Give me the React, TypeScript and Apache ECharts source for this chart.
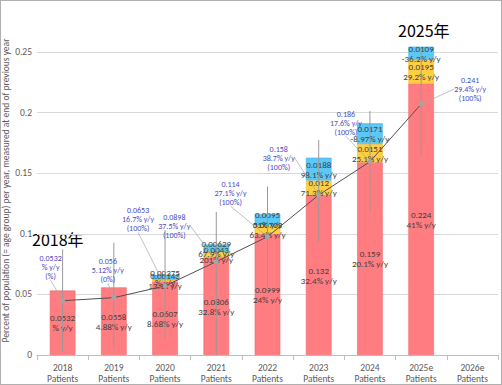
import React, { useEffect, useRef } from "react";
import * as echarts from "echarts";

const categories = ["2018\nPatients", "2019\nPatients", "2020\nPatients", "2021\nPatients", "2022\nPatients", "2023\nPatients", "2024\nPatients", "2025e\nPatients", "2026e\nPatients"];
const yTicks = [0, 0.05, 0.1, 0.15, 0.2, 0.25];

const redValues = [0.0532, 0.0558, 0.0607, 0.0806, 0.0999, 0.132, 0.159, 0.224, null];
const redYoy = ["%", "4.88%", "8.68%", "32.8%", "24%", "32.4%", "20.1%", "41%", ""];
const yellowValues = [null, null, 0.00143, 0.0043, 0.00703, 0.012, 0.0151, 0.0195, null];
const yellowYoy = ["", "", "13.1x", "201%", "63.4%", "71.3%", "25.1%", "29.2%", ""];
const blueValues = [null, null, 0.00375, 0.00629, 0.0095, 0.0188, 0.0171, 0.0109, null];
const blueYoy = ["", "", "%", "67.9%", "51%", "98.1%", "-8.97%", "-36.2%", ""];

const lineValues = [0.0448, 0.0473, 0.057, 0.077, 0.0976, 0.132, 0.1595, 0.207, null];
const errLow = [0.0027, 0.0055, 0.0137, 0.0, 0.0536, 0.0935, 0.1174, 0.165];
const errHigh = [0.0872, 0.0927, 0.103, 0.118, 0.139, 0.1774, 0.2013, 0.2533];

const totalValues = ["0.0532", "0.056", "0.0653", "0.0898", "0.114", "0.158", "0.186", "0.241"];
const totalYoy = ["%", "5.12%", "16.7%", "37.5%", "27.1%", "38.7%", "17.6%", "29.4%"];
const totalShare = ["%", "0%", "100%", "100%", "100%", "100%", "100%", "100%"];

const calloutOffsets = [
  [-12, -34], [-6, -28], [-27, -67], [-42, -36], [-37, -44], [-40, -37], [-24, -39], [49, -15],
];

const FONT = "Carlito, 'Liberation Sans Narrow', 'Liberation Sans', sans-serif";

export default function App() {
  const ref = useRef<HTMLDivElement>(null);
  useEffect(() => {
    if (!ref.current) return;
    const chart = echarts.init(ref.current, undefined, { renderer: "svg" });
    const barLabel = (yoy: string[]) => ({
      show: true,
      position: "inside",
      color: "#404040",
      fontSize: 9,
      lineHeight: 10,
      fontFamily: FONT,
      formatter: (p: any) => (p.value == null ? "" : `${p.value}\n${yoy[p.dataIndex]} y/y`),
    });
    chart.setOption({
      animation: false,
      backgroundColor: "#ffffff",
      textStyle: { fontFamily: FONT },
      grid: { left: 37, right: 4, top: 52, bottom: 30, containLabel: false, outerBoundsMode: "none" },
      xAxis: {
        type: "category",
        data: categories,
        axisLine: { lineStyle: { color: "#bfbfbf" } },
        axisTick: { show: true, length: 5, lineStyle: { color: "#bfbfbf" } },
        axisLabel: { color: "#595959", fontSize: 9.5, lineHeight: 11.5, margin: 7, fontFamily: FONT, interval: 0 },
      },
      yAxis: {
        type: "value",
        min: yTicks[0],
        max: yTicks[yTicks.length - 1],
        interval: 0.05,
        name: "Percent of population (= age group) per year, measured at end of previous year",
        nameLocation: "middle",
        nameGap: 26,
        nameMoveOverlap: false,
        nameTextStyle: { color: "#595959", fontSize: 9.5, fontFamily: FONT, padding: [0, 0, 0, 26] },
        axisLine: { show: false },
        axisTick: { show: false },
        axisLabel: { color: "#595959", fontSize: 9.5, margin: 5, fontFamily: FONT },
        splitLine: { lineStyle: { color: "#d9d9d9", width: 1 } },
      },
      series: [
        {
          type: "bar",
          stack: "total",
          barWidth: "50%",
          clip: false,
          data: redValues,
          itemStyle: { color: "#FF7C80", borderColor: "#F26A6E", borderWidth: 0.6 },
          label: barLabel(redYoy),
        },
        {
          type: "bar",
          stack: "total",
          barWidth: "50%",
          clip: false,
          data: yellowValues,
          itemStyle: { color: "#FFCF3F", borderColor: "#F0BE30", borderWidth: 0.6 },
          label: barLabel(yellowYoy),
        },
        {
          type: "bar",
          stack: "total",
          barWidth: "50%",
          clip: false,
          data: blueValues,
          itemStyle: { color: "#5BC8F5", borderColor: "#48B6E6", borderWidth: 0.6 },
          label: barLabel(blueYoy),
        },
        {
          type: "custom",
          clip: false,
          z: 5,
          data: errLow.map((lo, i) => [i, lo, errHigh[i]]),
          encode: { x: 0, y: [1, 2] },
          renderItem: (params: any, api: any) => {
            const x = api.value(0);
            const a = api.coord([x, api.value(1)]);
            const b = api.coord([x, api.value(2)]);
            return {
              type: "line",
              shape: { x1: a[0], y1: a[1], x2: b[0], y2: b[1] },
              style: { stroke: "#999999", lineWidth: 1 },
            };
          },
        },
        {
          type: "line",
          z: 6,
          data: lineValues,
          symbol: "circle",
          symbolSize: 5,
          itemStyle: { color: "#a5a5a5" },
          lineStyle: { color: "#505050", width: 1 },
          label: {
            show: true,
            position: "inside",
            color: "#4B4BC3",
            fontSize: 8,
            lineHeight: 9,
            align: "center",
            fontFamily: FONT,
            formatter: (p: any) =>
              p.dataIndex < totalValues.length
                ? `${totalValues[p.dataIndex]}\n${totalYoy[p.dataIndex]} y/y\n(${totalShare[p.dataIndex]})`
                : "",
          },
          labelLine: { show: true, lineStyle: { color: "#a6a6a6", width: 0.7 } },
          labelLayout: (p: any) => {
            const o = calloutOffsets[p.dataIndex];
            return o ? { dx: o[0], dy: o[1] } : {};
          },
        },
      ],
      graphic: [
        {
          type: "text",
          left: 32,
          top: 231,
          style: { text: "2018年", fontSize: 16, fill: "#000", fontFamily: "'Noto Sans CJK JP', sans-serif" },
        },
        {
          type: "text",
          left: 398,
          top: 22,
          style: { text: "2025年", fontSize: 16, fill: "#000", fontFamily: "'Noto Sans CJK JP', sans-serif" },
        },
      ],
    });
    return () => chart.dispose();
  }, []);
  return (
    <div style={{ position: "absolute", left: 0, top: 0, width: 502, height: 385 }}>
      <div ref={ref} style={{ width: 502, height: 385 }} />
      <div
        style={{
          position: "absolute",
          left: 0,
          top: 0,
          width: 502,
          height: 385,
          boxSizing: "border-box",
          border: "1px solid #b0b0b0",
          pointerEvents: "none",
        }}
      />
    </div>
  );
}
